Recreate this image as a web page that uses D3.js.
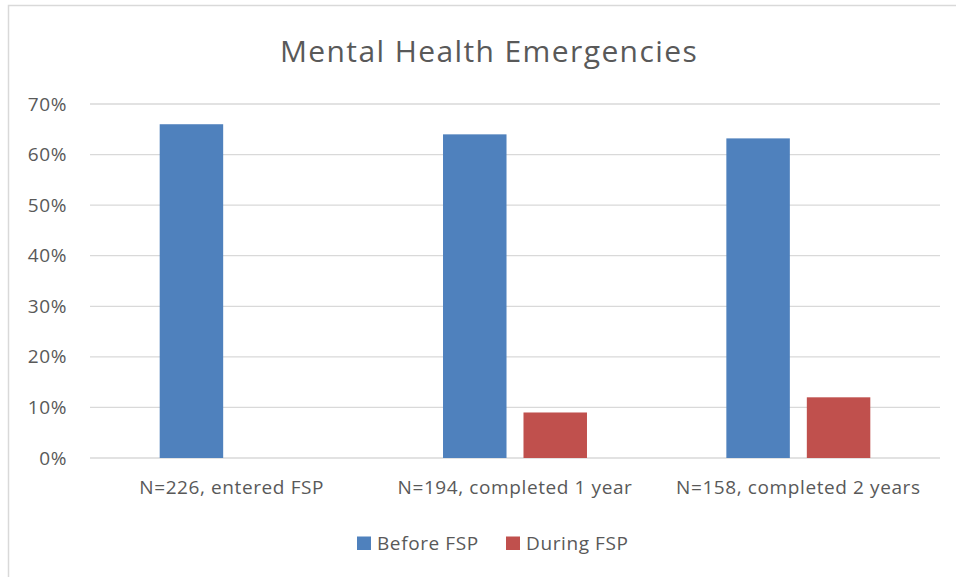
<!DOCTYPE html>
<html>
<head>
<meta charset="utf-8">
<script src="https://cdn.jsdelivr.net/npm/d3@7"></script>
<style>
  body { margin: 0; background: #fff; }
  svg { display: block; font-family: "Open Sans", sans-serif; }
</style>
</head>
<body>
<div class="chart"></div>
<script>
const categories = ["N=226, entered FSP", "N=194, completed 1 year", "N=158, completed 2 years"];
const seriesNames = ["Before FSP", "During FSP"];
const beforeFSP = [66, 64, 63.2];
const duringFSP = [null, 9, 12];
const yTicks = [0, 10, 20, 30, 40, 50, 60, 70];
const colors = ["#4f81bd", "#c0504d"];

const showChart = () => {
  const width = 956, height = 577;
  const left = 90, right = 940, top = 104, bottom = 458;
  const textColor = "#595959";

  const svg = d3.select(".chart").append("svg")
    .attr("width", width)
    .attr("height", height);

  // chart frame (only top and left edges fall inside the picture)
  svg.append("path")
    .attr("d", "M8.5,600 V5.5 H960")
    .attr("fill", "none")
    .attr("stroke", "#d9d9d9")
    .attr("stroke-width", 1.5);

  const x = d3.scaleBand().domain(categories).range([left, right]).padding(0);
  const xs = d3.scaleBand().domain(seriesNames).range([0, x.bandwidth()])
    .paddingInner(0.211).paddingOuter(0.866);
  const y = d3.scaleLinear().domain([0, 70]).range([bottom, top]);

  // gridlines
  svg.append("g")
    .selectAll("line")
    .data(yTicks)
    .enter().append("line")
    .attr("x1", left).attr("x2", right)
    .attr("y1", d => y(d)).attr("y2", d => y(d))
    .attr("stroke", "#d9d9d9")
    .attr("stroke-width", 1.3);

  // y axis labels
  const yAxis = svg.append("g")
    .attr("transform", "translate(" + (left - 23) + ",0)")
    .call(d3.axisLeft(y).tickValues(yTicks).tickSize(0).tickPadding(0).tickFormat(d => d + "%"));
  yAxis.select(".domain").remove();
  yAxis.selectAll("text")
    .attr("fill", textColor)
    .attr("font-size", "19px")
    .attr("letter-spacing", "0.6px")
    .attr("font-family", "Open Sans, sans-serif");

  const rows = categories.map((c, i) => ({ cat: c, values: [beforeFSP[i], duringFSP[i]] }));

  const groups = svg.append("g").selectAll("g")
    .data(rows)
    .enter().append("g")
    .attr("transform", d => "translate(" + x(d.cat) + ",0)");

  groups.selectAll("rect")
    .data(d => d.values.map((v, j) => ({ name: seriesNames[j], v: v, j: j })).filter(e => e.v != null))
    .enter().append("rect")
    .attr("x", d => xs(d.name))
    .attr("width", xs.bandwidth())
    .attr("y", d => y(d.v))
    .attr("height", d => y(0) - y(d.v))
    .attr("fill", d => colors[d.j]);

  // x axis labels
  const xAxis = svg.append("g")
    .attr("transform", "translate(0," + bottom + ")")
    .call(d3.axisBottom(x).tickSize(0).tickPadding(23));
  xAxis.select(".domain").remove();
  xAxis.selectAll("text")
    .attr("fill", textColor)
    .attr("font-size", "19px")
    .attr("letter-spacing", "0.6px")
    .attr("font-family", "Open Sans, sans-serif");

  // title
  svg.append("text")
    .attr("x", 489)
    .attr("y", 62)
    .attr("text-anchor", "middle")
    .attr("fill", textColor)
    .attr("font-size", "30px")
    .attr("letter-spacing", "1.4px")
    .text("Mental Health Emergencies");

  // legend
  const legendX = [357, 506];
  const legend = svg.append("g").selectAll("g")
    .data(seriesNames)
    .enter().append("g")
    .attr("transform", (d, i) => "translate(" + legendX[i] + ",536.5)");
  legend.append("rect")
    .attr("width", 14).attr("height", 13.5)
    .attr("fill", (d, i) => colors[i]);
  legend.append("text")
    .attr("x", 20)
    .attr("y", 13)
    .attr("fill", textColor)
    .attr("font-size", "19px")
    .attr("letter-spacing", "0.6px")
    .text(d => d);
};

showChart();
</script>
</body>
</html>
